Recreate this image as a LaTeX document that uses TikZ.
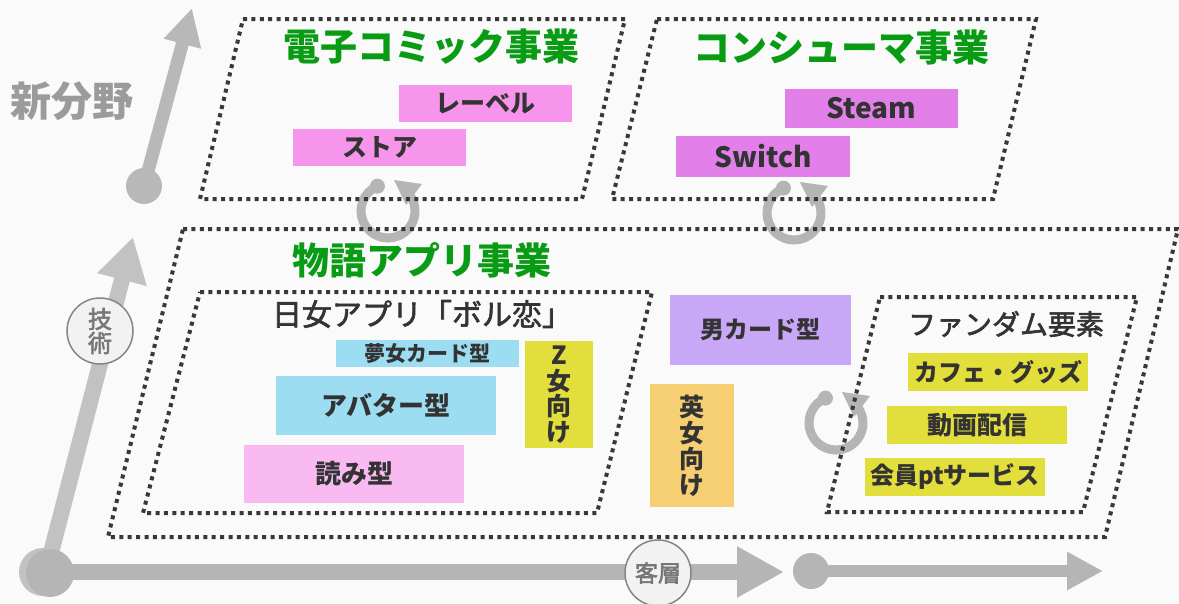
\documentclass[tikz,border=0pt]{standalone}
\usepackage{fontspec}
\setmainfont{Noto Sans CJK JP}
\newcommand\medtext[1]{\special{pdf:literal direct 2 Tr 0.6 w}#1\special{pdf:literal direct 0 Tr}}
\usetikzlibrary{arrows.meta}
\definecolor{bgc}{HTML}{FAFAFA}
\definecolor{axA}{HTML}{B5B5B5}
\definecolor{axB}{HTML}{C2C2C2}
\definecolor{axC}{HTML}{B8B8B8}
\definecolor{dotc}{HTML}{383838}
\definecolor{grn}{RGB}{10,155,20}
\definecolor{txt}{HTML}{333333}
\definecolor{pinkA}{HTML}{F795EC}
\definecolor{purp}{HTML}{E27FE9}
\definecolor{blu}{HTML}{9CDDF2}
\definecolor{pinkB}{HTML}{F9BAF1}
\definecolor{yel}{HTML}{E2DE3B}
\definecolor{ora}{HTML}{F5CF72}
\definecolor{lav}{HTML}{C9A7F7}
\definecolor{lblgray}{HTML}{777777}
\definecolor{newgray}{HTML}{9B9B9B}
\begin{document}
\begin{tikzpicture}[x=1pt,y=-1pt,
  dotbox/.style={draw=dotc,line width=4pt,dash pattern=on 4pt off 4.4pt},
  tag/.style={inner sep=0pt,text=txt,font=\bfseries\fontsize{#1}{#1}\selectfont},
  green title/.style={inner sep=0pt,text=grn,font=\bfseries\fontsize{37}{37}\selectfont},
  sub title/.style={inner sep=0pt,text=txt,font=\fontsize{#1}{#1}\selectfont},
  axlabel/.style={circle,draw=lblgray!90,line width=1.5pt,fill=white!95!black,minimum size=66pt,inner sep=0pt,text=lblgray,align=center},
  cycline/.style={draw=axA,line width=9pt},
  cyclearrow/.pic={
    \draw[cycline] (-113:27) arc[start angle=-113,end angle=-398,radius=27];
    \fill[axA] (-113:27) circle[radius=7.5];
    \fill[axA] (6,-31) -- (34,-27) -- (18,-6) -- cycle;
  }]
\useasboundingbox (0,0) rectangle (1179,603);
\fill[bgc] (0,0) rectangle (1179,603);

% axes
\coordinate (o) at (46,572);
\coordinate (tv) at (133,237);
\coordinate (th) at (784,572);
\coordinate (n0) at (144,186);
\coordinate (nt) at (192,8);
\coordinate (r0) at (811,571);
\coordinate (rt) at (1103,571);
\draw[axB,line width=16pt,-{Triangle[length=44pt 0 0,width=48pt 0 0]}] (o) -- (tv);
\draw[axA,line width=16pt,-{Triangle[length=47pt 0 0,width=48pt 0 0]}] (o) -- (th);
\fill[axB] (43,572) circle[radius=24];
\fill[axA] (50,573) circle[radius=24];
\draw[axC,line width=13pt,-{Triangle[length=37pt 0 0,width=36pt 0 0]}] (n0) -- (nt);
\fill[axC] (n0) circle[radius=18];
\draw[axA,line width=12pt,-{Triangle[length=36pt 0 0,width=36pt 0 0]}] (r0) -- (rt);
\fill[axA] (r0) circle[radius=18];

% cycles
\pic at (388,211) {cyclearrow};
\pic at (794,213) {cyclearrow};
\pic at (836,423) {cyclearrow};

% dotted areas
\draw[dotbox] (243,19) -- (625,19) -- (582,199) -- (200,199) -- cycle;
\draw[dotbox] (657,19) -- (1036,19) -- (993,199) -- (612,199) -- cycle;
\draw[dotbox] (183,229) -- (1178,229) -- (1105,537) -- (108,537) -- cycle;
\draw[dotbox] (200,292) -- (652,292) -- (597,513) -- (143,513) -- cycle;
\draw[dotbox] (880,297) -- (1137,297) -- (1083,512) -- (827,512) -- cycle;

% titles
\node[green title] (tcomic) at (431,47) {電子コミック事業};
\node[green title] (tcons) at (841,47) {コンシューマ事業};
\node[green title] (tstory) at (422,260) {物語アプリ事業};
\node[inner sep=0pt,text=newgray,font=\bfseries\fontsize{41}{41}\selectfont] (tnew) at (72,101) {新分野};
\node[sub title=30] (tboru) at (422,314) {\medtext{日女アプリ「ボル恋」}};
\node[sub title=28] (tfan) at (1006,324) {\medtext{ファンダム要素}};

% boxes
\node[tag=25,fill=pinkA,minimum width=173pt,minimum height=37pt] (label) at (485.5,103.5) {レーベル};
\node[tag=25,fill=pinkA,minimum width=173pt,minimum height=37pt] (store) at (379.5,147.5) {ストア};
\node[tag=28,fill=purp,minimum width=173pt,minimum height=39pt] (steam) at (871.5,108.5) {Steam};
\node[tag=28,fill=purp,minimum width=174pt,minimum height=41pt] (switch) at (763,156.5) {Switch};
\node[tag=21,fill=blu,minimum width=183pt,minimum height=27pt] (yume) at (427.5,353.5) {夢女カード型};
\node[tag=26,fill=blu,minimum width=220pt,minimum height=59pt] (avatar) at (386,405.5) {アバター型};
\node[tag=26,fill=pinkB,minimum width=220pt,minimum height=58pt] (yomi) at (354,474) {読み型};
\node[tag=25,fill=yel,minimum width=68pt,minimum height=107pt,align=center,font=\bfseries\fontsize{25}{25.5}\selectfont] (zjo) at (559,394.5) {Z\\女\\向\\け};
\node[tag=24,fill=lav,minimum width=181pt,minimum height=70pt] (otoko) at (760.5,330) {男カード型};
\node[tag=25,fill=ora,minimum width=84pt,minimum height=123pt,align=center,font=\bfseries\fontsize{25}{26}\selectfont] (eijo) at (692,445.5) {英\\女\\向\\け};
\node[tag=24,fill=yel,minimum width=180pt,minimum height=38pt] (cafe) at (998,372) {カフェ・グッズ};
\node[tag=25,fill=yel,minimum width=180pt,minimum height=38pt] (doga) at (977,425) {動画配信};
\node[tag=24,fill=yel,minimum width=180pt,minimum height=38pt] (kaiin) at (955,477) {会員ptサービス};

% axis labels
\node[axlabel,font=\fontsize{24}{24}\selectfont] (gijutsu) at (100,331) {\medtext{技}\\\medtext{術}};
\node[axlabel,font=\fontsize{23}{23}\selectfont] (kyaku) at (658,573) {\medtext{客層}};
\end{tikzpicture}
\end{document}
